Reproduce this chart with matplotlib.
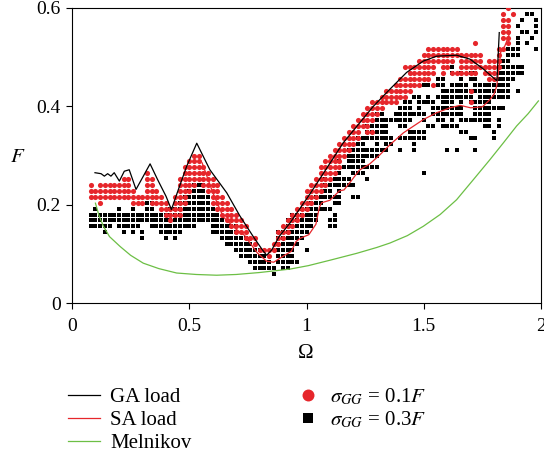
import numpy as np
import matplotlib
matplotlib.use("Agg")
import matplotlib.pyplot as plt
from matplotlib.lines import Line2D

plt.rcParams['font.family'] = ['Liberation Serif', 'DejaVu Serif']
plt.rcParams['mathtext.fontset'] = 'stix'

# ---------------- data ----------------
omega_step = 0.02  # spacing of the Omega grid of the scatter points

ga_omega = [0.098, 0.124, 0.138, 0.152, 0.166, 0.180, 0.202, 0.223, 0.244, 0.273,
            0.333, 0.365, 0.401, 0.424, 0.453, 0.489, 0.532, 0.588, 0.660, 0.716,
            0.773, 0.812, 0.830, 0.852, 0.883, 0.930, 1.015, 1.157, 1.285, 1.356,
            1.427, 1.498, 1.555, 1.640, 1.697, 1.754, 1.797, 1.812, 1.822]
ga_F = [0.265, 0.263, 0.258, 0.263, 0.258, 0.265, 0.248, 0.268, 0.271, 0.231,
        0.283, 0.251, 0.217, 0.190, 0.230, 0.278, 0.325, 0.271, 0.224, 0.177,
        0.135, 0.108, 0.097, 0.108, 0.135, 0.163, 0.222, 0.326, 0.400, 0.435,
        0.469, 0.492, 0.502, 0.504, 0.496, 0.476, 0.458, 0.452, 0.550]

sa_omega = [0.555, 0.600, 0.645, 0.700, 0.735, 0.790, 0.830, 0.860, 0.910, 0.935,
            0.955, 0.975, 1.010, 1.040, 1.055, 1.065, 1.100, 1.140, 1.160, 1.190,
            1.225, 1.270, 1.310, 1.356, 1.413, 1.498, 1.555, 1.612, 1.655, 1.700,
            1.750, 1.783, 1.800, 1.811, 1.822, 1.828, 1.846, 1.860, 1.868]
sa_F = [0.285, 0.225, 0.175, 0.150, 0.138, 0.102, 0.085, 0.083, 0.098, 0.105,
        0.125, 0.132, 0.139, 0.160, 0.195, 0.204, 0.209, 0.228, 0.230, 0.248,
        0.270, 0.283, 0.300, 0.322, 0.346, 0.373, 0.387, 0.397, 0.402, 0.397,
        0.399, 0.414, 0.425, 0.441, 0.482, 0.510, 0.523, 0.540, 0.552]

mel_omega = [0.100, 0.115, 0.134, 0.160, 0.205, 0.250, 0.304, 0.370, 0.446, 0.530,
             0.617, 0.700, 0.800, 0.930, 1.008, 1.100, 1.214, 1.300, 1.356, 1.430,
             1.498, 1.570, 1.640, 1.710, 1.783, 1.840, 1.896, 1.945, 1.989]
mel_F = [0.203, 0.178, 0.156, 0.135, 0.115, 0.097, 0.081, 0.070, 0.061, 0.058,
         0.0565, 0.058, 0.062, 0.069, 0.076, 0.087, 0.101, 0.113, 0.122, 0.137,
         0.156, 0.180, 0.210, 0.250, 0.292, 0.326, 0.360, 0.385, 0.411]

# sigma_GG = 0.1F points: runs of grid points (F, Omega_first, Omega_last)
red_runs = [
    (0.096, 0.84, 0.84),
    (0.108, 0.80, 0.86),
    (0.120, 0.78, 0.78), (0.120, 0.86, 0.88),
    (0.132, 0.74, 0.78), (0.132, 0.88, 0.90),
    (0.144, 0.70, 0.74), (0.144, 0.88, 0.92),
    (0.156, 0.68, 0.74), (0.156, 0.90, 0.94),
    (0.168, 0.42, 0.42), (0.168, 0.66, 0.72), (0.168, 0.92, 0.96),
    (0.180, 0.40, 0.46), (0.180, 0.64, 0.70), (0.180, 0.94, 0.98),
    (0.192, 0.38, 0.46), (0.192, 0.62, 0.68), (0.192, 0.96, 1.00),
    (0.204, 0.12, 0.12), (0.204, 0.26, 0.30), (0.204, 0.34, 0.40), (0.204, 0.44, 0.48),
    (0.204, 0.60, 0.66), (0.204, 0.98, 1.02),
    (0.216, 0.08, 0.38), (0.216, 0.44, 0.48), (0.216, 0.60, 0.64), (0.216, 1.00, 1.04),
    (0.228, 0.08, 0.26), (0.228, 0.32, 0.36), (0.228, 0.46, 0.50), (0.228, 0.58, 0.62),
    (0.228, 1.00, 1.06),
    (0.240, 0.08, 0.08), (0.240, 0.12, 0.24), (0.240, 0.32, 0.34), (0.240, 0.46, 0.52),
    (0.240, 0.56, 0.62), (0.240, 1.02, 1.08),
    (0.252, 0.22, 0.24), (0.252, 0.32, 0.34), (0.252, 0.46, 0.60), (0.252, 1.04, 1.10),
    (0.264, 0.32, 0.32), (0.264, 0.48, 0.58), (0.264, 1.06, 1.12),
    (0.276, 0.48, 0.56), (0.276, 1.06, 1.14),
    (0.288, 0.50, 0.54), (0.288, 1.08, 1.14),
    (0.300, 0.52, 0.54), (0.300, 1.10, 1.16),
    (0.312, 1.12, 1.18),
    (0.324, 1.14, 1.20),
    (0.336, 1.16, 1.22),
    (0.348, 1.18, 1.22), (0.348, 1.26, 1.28),
    (0.360, 1.20, 1.26),
    (0.372, 1.22, 1.28),
    (0.384, 1.24, 1.30),
    (0.396, 1.26, 1.32),
    (0.408, 1.28, 1.38), (0.408, 1.70, 1.70),
    (0.420, 1.32, 1.42),
    (0.432, 1.34, 1.44), (0.432, 1.70, 1.70),
    (0.444, 1.38, 1.48), (0.444, 1.54, 1.54),
    (0.456, 1.40, 1.52), (0.456, 1.78, 1.80),
    (0.468, 1.44, 1.54), (0.468, 1.58, 1.58), (0.468, 1.62, 1.72), (0.468, 1.76, 1.80),
    (0.480, 1.42, 1.54), (0.480, 1.58, 1.60), (0.480, 1.66, 1.82),
    (0.492, 1.48, 1.62), (0.492, 1.66, 1.74), (0.492, 1.78, 1.82),
    (0.504, 1.50, 1.74), (0.504, 1.82, 1.82),
    (0.516, 1.52, 1.64), (0.516, 1.82, 1.84),
    (0.528, 1.72, 1.72), (0.528, 1.86, 1.86),
    (0.540, 1.84, 1.86),
    (0.552, 1.84, 1.86),
    (0.564, 1.84, 1.86),
    (0.576, 1.84, 1.86),
    (0.588, 1.84, 1.84), (0.588, 1.88, 1.88),
    (0.600, 1.86, 1.86),
]

# sigma_GG = 0.3F points
black_runs = [
    (0.060, 0.86, 0.86),
    (0.072, 0.78, 0.86), (0.072, 0.90, 0.92),
    (0.084, 0.76, 0.84), (0.084, 0.88, 0.96),
    (0.096, 0.72, 0.82), (0.096, 0.88, 0.94),
    (0.108, 0.70, 0.80), (0.108, 0.88, 0.94), (0.108, 1.00, 1.00),
    (0.120, 0.66, 0.76), (0.120, 0.88, 0.96),
    (0.132, 0.30, 0.30), (0.132, 0.40, 0.40), (0.132, 0.44, 0.44), (0.132, 0.64, 0.74),
    (0.132, 0.88, 0.98),
    (0.144, 0.14, 0.14), (0.144, 0.22, 0.22), (0.144, 0.26, 0.26), (0.144, 0.30, 0.30),
    (0.144, 0.38, 0.46), (0.144, 0.60, 0.70), (0.144, 0.88, 1.00),
    (0.156, 0.08, 0.16), (0.156, 0.20, 0.28), (0.156, 0.34, 0.52), (0.156, 0.60, 0.70),
    (0.156, 0.92, 1.02), (0.156, 1.10, 1.12),
    (0.168, 0.08, 0.64), (0.168, 0.92, 1.04), (0.168, 1.10, 1.12),
    (0.180, 0.08, 0.62), (0.180, 0.94, 1.04), (0.180, 1.12, 1.12),
    (0.192, 0.10, 0.10), (0.192, 0.20, 0.20), (0.192, 0.26, 0.26), (0.192, 0.32, 0.34),
    (0.192, 0.42, 0.60), (0.192, 0.98, 1.10),
    (0.204, 0.32, 0.34), (0.204, 0.46, 0.58), (0.204, 1.02, 1.06), (0.204, 1.12, 1.14),
    (0.216, 0.48, 0.58), (0.216, 1.04, 1.14), (0.216, 1.20, 1.22),
    (0.228, 0.50, 0.56), (0.228, 1.08, 1.10), (0.228, 1.14, 1.14),
    (0.240, 0.52, 0.56), (0.240, 1.08, 1.20),
    (0.252, 1.08, 1.08), (0.252, 1.12, 1.18), (0.252, 1.26, 1.26),
    (0.264, 1.14, 1.14), (0.264, 1.20, 1.24), (0.264, 1.50, 1.50),
    (0.276, 1.16, 1.30),
    (0.288, 1.14, 1.14), (0.288, 1.18, 1.24),
    (0.300, 1.18, 1.30),
    (0.312, 1.18, 1.34), (0.312, 1.40, 1.40), (0.312, 1.46, 1.46), (0.312, 1.60, 1.60),
    (0.312, 1.64, 1.64), (0.312, 1.72, 1.72),
    (0.324, 1.22, 1.24), (0.324, 1.30, 1.30), (0.324, 1.34, 1.36), (0.324, 1.46, 1.46),
    (0.336, 1.22, 1.36), (0.336, 1.40, 1.50), (0.336, 1.70, 1.72), (0.336, 1.80, 1.80),
    (0.348, 1.26, 1.34), (0.348, 1.44, 1.50), (0.348, 1.66, 1.68), (0.348, 1.80, 1.80),
    (0.360, 1.26, 1.34), (0.360, 1.40, 1.42), (0.360, 1.52, 1.54), (0.360, 1.58, 1.64),
    (0.360, 1.76, 1.78), (0.360, 1.82, 1.82),
    (0.372, 1.30, 1.44), (0.372, 1.50, 1.50), (0.372, 1.56, 1.58), (0.372, 1.62, 1.62),
    (0.372, 1.66, 1.78), (0.372, 1.82, 1.82),
    (0.384, 1.30, 1.32), (0.384, 1.38, 1.50), (0.384, 1.54, 1.66), (0.384, 1.72, 1.78),
    (0.396, 1.40, 1.44), (0.396, 1.48, 1.48), (0.396, 1.54, 1.66), (0.396, 1.72, 1.84),
    (0.408, 1.42, 1.44), (0.408, 1.48, 1.54), (0.408, 1.58, 1.62), (0.408, 1.66, 1.66),
    (0.408, 1.70, 1.78),
    (0.420, 1.46, 1.48), (0.420, 1.52, 1.52), (0.420, 1.56, 1.70), (0.420, 1.74, 1.86),
    (0.432, 1.58, 1.86), (0.432, 1.90, 1.90),
    (0.444, 1.50, 1.52), (0.444, 1.56, 1.58), (0.444, 1.62, 1.68), (0.444, 1.72, 1.86),
    (0.456, 1.56, 1.58), (0.456, 1.66, 1.66), (0.456, 1.70, 1.72), (0.456, 1.82, 1.88),
    (0.468, 1.62, 1.62), (0.468, 1.66, 1.66), (0.468, 1.70, 1.72), (0.468, 1.82, 1.92),
    (0.480, 1.62, 1.62), (0.480, 1.82, 1.92),
    (0.492, 1.84, 1.86),
    (0.504, 1.86, 1.90),
    (0.516, 1.86, 1.90), (0.516, 1.98, 1.98),
    (0.528, 1.90, 1.90), (0.528, 1.94, 1.94),
    (0.540, 1.90, 1.90), (0.540, 1.96, 1.96),
    (0.552, 1.92, 1.94), (0.552, 1.98, 1.98),
    (0.564, 1.90, 1.90), (0.564, 1.98, 1.98),
    (0.576, 1.92, 1.92), (0.576, 1.98, 1.98),
    (0.588, 1.94, 1.96),
]

x_ticks = [0, 0.5, 1, 1.5, 2]
x_ticklabels = ["0", "0.5", "1", "1.5", "2"]
y_ticks = [0, 0.2, 0.4, 0.6]
y_ticklabels = ["0", "0.2", "0.4", "0.6"]
legend_labels = ["GA load", "SA load", "Melnikov",
                 r"$\sigma_{GG}$ = 0.1$F$", r"$\sigma_{GG}$ = 0.3$F$"]


def expand(runs):
    xs, ys = [], []
    for F, a, b in runs:
        n = int(round((b - a) / omega_step)) + 1
        for k in range(n):
            xs.append(a + k * omega_step)
            ys.append(F)
    return np.array(xs), np.array(ys)


RED = '#e6262b'
GREEN = '#6cbf45'

W, H = 544, 458
fig = plt.figure(figsize=(W / 100, H / 100), dpi=100)
ax = fig.add_axes([72 / W, 1 - 303 / H, (541 - 72) / W, (303 - 8) / H])

bx, by = expand(black_runs)
rx, ry = expand(red_runs)
ax.plot(bx, by, linestyle='none', marker='s', markersize=3.4, color='black',
        markeredgewidth=0, zorder=2)
ax.plot(rx, ry, linestyle='none', marker='o', markersize=3.7, color=RED,
        markeredgewidth=0, zorder=3)
ax.plot(mel_omega, mel_F, color=GREEN, lw=0.9, zorder=4)
ax.plot(sa_omega, sa_F, color=RED, lw=0.9, zorder=5)
ax.plot(ga_omega, ga_F, color='black', lw=0.9, zorder=6)

ax.set_xlim(0, 2)
ax.set_ylim(0, 0.6)
ax.set_xticks(x_ticks)
ax.set_xticklabels(x_ticklabels)
ax.set_yticks(y_ticks)
ax.set_yticklabels(y_ticklabels)
ax.tick_params(direction='out', length=4, width=0.8, labelsize=14)
ax.tick_params(axis='x', pad=7)
ax.tick_params(axis='y', pad=4)
for s in ax.spines.values():
    s.set_linewidth(0.8)

fig.text(18 / W, 1 - 158 / H, r'$F$', fontsize=15, ha='center', va='center')
fig.text(306 / W, 1 - 354 / H, 'Ω', fontsize=15, ha='center', va='center')

# legend (two columns below the axes)
line_colors = ['black', RED, GREEN]
baselines = [402, 425, 448]
for lab, col, yb in zip(legend_labels[:3], line_colors, baselines):
    fig.add_artist(Line2D([68 / W, 100 / W], [1 - (yb - 7.5) / H] * 2,
                          color=col, lw=0.9, transform=fig.transFigure))
    fig.text(110.5 / W, 1 - yb / H, lab, fontsize=15, ha='left', va='baseline')

mk = [('o', RED, 8.6), ('s', 'black', 7.9)]
for lab, (m, col, ms), yb in zip(legend_labels[3:], mk, baselines[:2]):
    fig.add_artist(Line2D([307.5 / W], [1 - (yb - 7) / H], marker=m, color=col,
                          markersize=ms, markeredgewidth=0, linestyle='none',
                          transform=fig.transFigure))
    fig.text(329.5 / W, 1 - yb / H, lab, fontsize=15, ha='left', va='baseline')

fig.savefig('out.png', dpi=100)
